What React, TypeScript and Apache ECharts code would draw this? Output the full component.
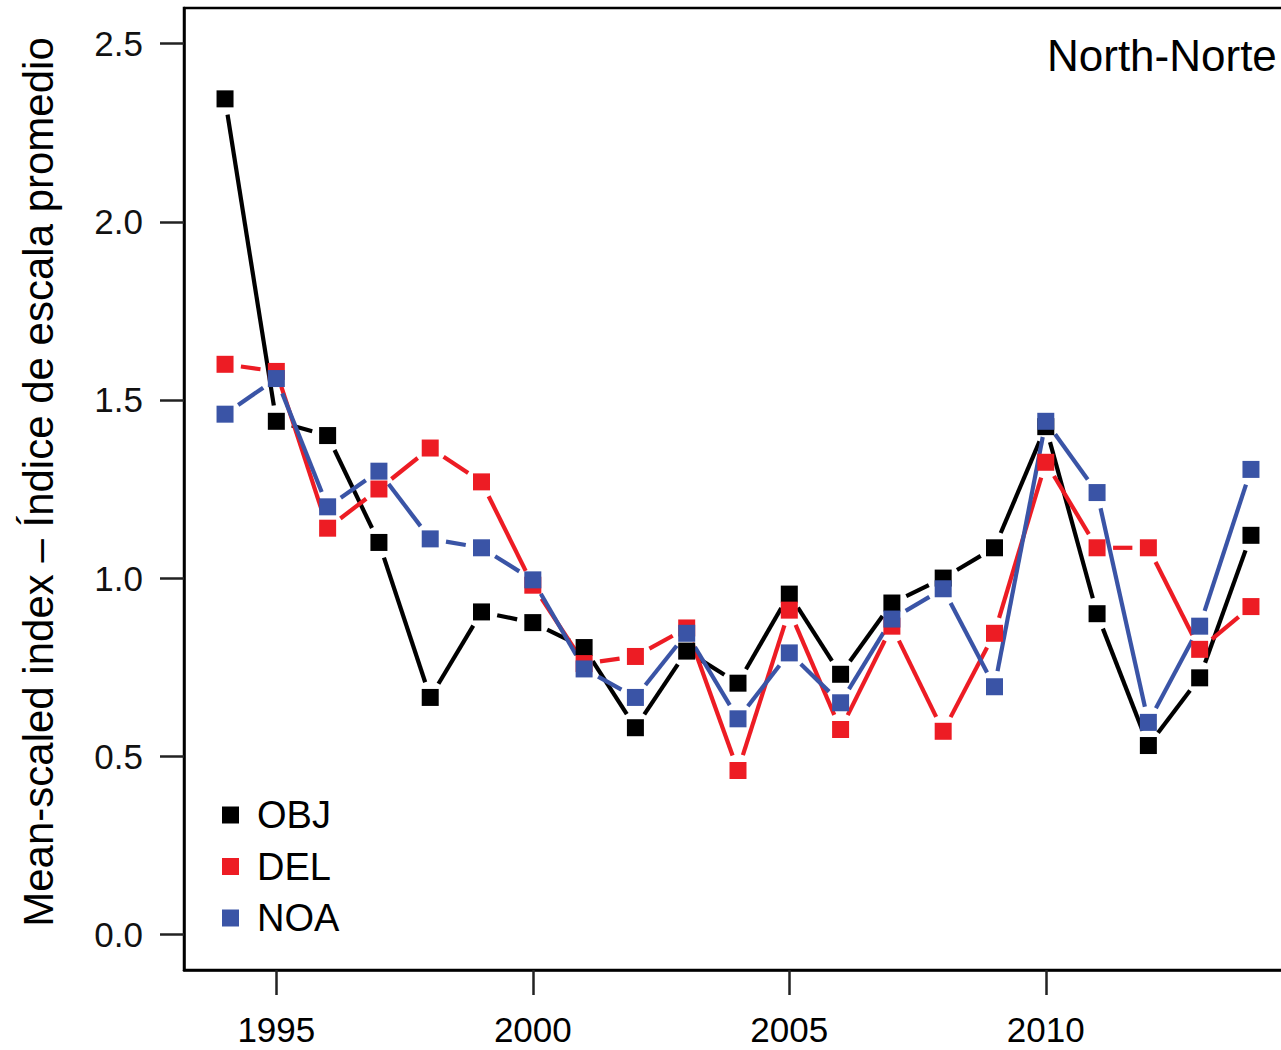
import React, { useEffect, useRef } from "react";
import * as echarts from "echarts";

const years = [1994, 1995, 1996, 1997, 1998, 1999, 2000, 2001, 2002, 2003, 2004, 2005, 2006, 2007, 2008, 2009, 2010, 2011, 2012, 2013, 2014];
const objValues = [2.345, 1.44, 1.40, 1.10, 0.665, 0.905, 0.875, 0.805, 0.58, 0.795, 0.705, 0.955, 0.73, 0.93, 1.00, 1.085, 1.425, 0.90, 0.53, 0.72, 1.12];
const delValues = [1.60, 1.58, 1.14, 1.25, 1.365, 1.27, 0.98, 0.76, 0.78, 0.86, 0.46, 0.91, 0.575, 0.865, 0.57, 0.845, 1.325, 1.085, 1.085, 0.80, 0.92];
const noaValues = [1.46, 1.56, 1.20, 1.30, 1.11, 1.085, 0.995, 0.745, 0.665, 0.845, 0.605, 0.79, 0.65, 0.885, 0.97, 0.695, 1.44, 1.24, 0.595, 0.865, 1.305];
const xTicks = [1995, 2000, 2005, 2010];
const yTicks = [0, 0.5, 1.0, 1.5, 2.0, 2.5];
const seriesNames = ["OBJ", "DEL", "NOA"];
const seriesColors = ["#000000", "#ED1C24", "#3A54A6"];
const panelLabel = "North-Norte";
const yTitle = "Mean-scaled index \u2013 \u00CDndice de escala promedio";

const FONT = "'Liberation Sans', Arial, Helvetica, sans-serif";
const GAP = 16;

function segmentsOf(vals: number[]) {
  const out: number[][] = [];
  for (let i = 0; i < years.length - 1; i++) {
    out.push([years[i], vals[i], years[i + 1], vals[i + 1]]);
  }
  return out;
}

function lineSeries(name: string, vals: number[], color: string) {
  return {
    type: "custom",
    name: name + " line",
    data: segmentsOf(vals),
    encode: { x: [0, 2], y: [1, 3] },
    clip: false,
    renderItem: (params: any, api: any) => {
      const p1 = api.coord([api.value(0), api.value(1)]);
      const p2 = api.coord([api.value(2), api.value(3)]);
      const dx = p2[0] - p1[0];
      const dy = p2[1] - p1[1];
      const len = Math.sqrt(dx * dx + dy * dy);
      if (len <= 2 * GAP + 1) return null;
      const ux = dx / len;
      const uy = dy / len;
      return {
        type: "line",
        shape: {
          x1: p1[0] + ux * GAP,
          y1: p1[1] + uy * GAP,
          x2: p2[0] - ux * GAP,
          y2: p2[1] - uy * GAP,
        },
        style: { stroke: color, lineWidth: 4.2, lineCap: "butt" },
      };
    },
    z: 2,
  };
}

function pointSeries(name: string, vals: number[], color: string) {
  return {
    type: "scatter",
    name,
    data: years.map((y, i) => [y, vals[i]]),
    symbol: "rect",
    symbolSize: 17,
    itemStyle: { color, opacity: 1 },
    z: 3,
  };
}

export default function App() {
  const ref = useRef<HTMLDivElement>(null);
  useEffect(() => {
    if (!ref.current) return;
    const chart = echarts.init(ref.current, null, { renderer: "svg" });
    const allSeries: any[] = [];
    const valsList = [objValues, delValues, noaValues];
    for (let k = 0; k < 3; k++) {
      allSeries.push(lineSeries(seriesNames[k], valsList[k], seriesColors[k]));
      allSeries.push(pointSeries(seriesNames[k], valsList[k], seriesColors[k]));
    }
    chart.setOption({
      animation: false,
      backgroundColor: "#ffffff",
      grid: {
        left: 184,
        top: 8,
        width: 1108,
        height: 962,
        show: true,
        borderColor: "#000",
        borderWidth: 2.5,
        containLabel: false,
      },
      xAxis: {
        type: "value",
        min: 1993.2,
        max: 2014.8,
        splitLine: { show: false },
        axisLine: { show: true, onZero: false, lineStyle: { color: "#000", width: 2.5 } },
        axisTick: {
          show: true,
          inside: false,
          length: 25,
          customValues: xTicks,
          lineStyle: { color: "#222", width: 2.5 },
        },
        axisLabel: {
          show: true,
          customValues: xTicks,
          margin: 42,
          fontSize: 35,
          fontFamily: FONT,
          color: "#000",
          formatter: (v: number) => String(v),
        },
      },
      yAxis: {
        type: "value",
        min: -0.1,
        max: 2.6,
        splitLine: { show: false },
        axisLine: { show: true, onZero: false, lineStyle: { color: "#000", width: 2.5 } },
        axisTick: {
          show: true,
          inside: false,
          length: 24,
          customValues: yTicks,
          lineStyle: { color: "#222", width: 2.5 },
        },
        axisLabel: {
          show: true,
          customValues: yTicks,
          margin: 41,
          fontSize: 35,
          fontFamily: FONT,
          color: "#111",
          formatter: (v: number) => v.toFixed(1),
        },
      },
      legend: {
        data: seriesNames,
        orient: "vertical",
        left: 217,
        top: 791,
        icon: "rect",
        itemWidth: 17,
        itemHeight: 17,
        itemGap: 13.5,
        selectedMode: false,
        textStyle: {
          fontSize: 38,
          lineHeight: 38,
          fontFamily: FONT,
          color: "#000",
          padding: [0, 0, 0, 13],
        },
      },
      graphic: [
        {
          type: "text",
          x: 1047,
          y: 55,
          style: {
            text: panelLabel,
            font: `44px ${FONT}`,
            fill: "#000",
            textAlign: "left",
            textVerticalAlign: "middle",
          },
        },
        {
          type: "text",
          x: 38,
          y: 482,
          rotation: Math.PI / 2,
          style: {
            text: yTitle,
            font: `42px ${FONT}`,
            fill: "#000",
            textAlign: "center",
            textVerticalAlign: "middle",
          },
        },
      ],
      series: allSeries,
    });
    return () => chart.dispose();
  }, []);
  return (
    <div style={{ position: "absolute", left: 0, top: 0, width: 1281, height: 1050, overflow: "hidden", background: "#fff" }}>
      <div ref={ref} style={{ width: 1300, height: 1050 }} />
    </div>
  );
}
